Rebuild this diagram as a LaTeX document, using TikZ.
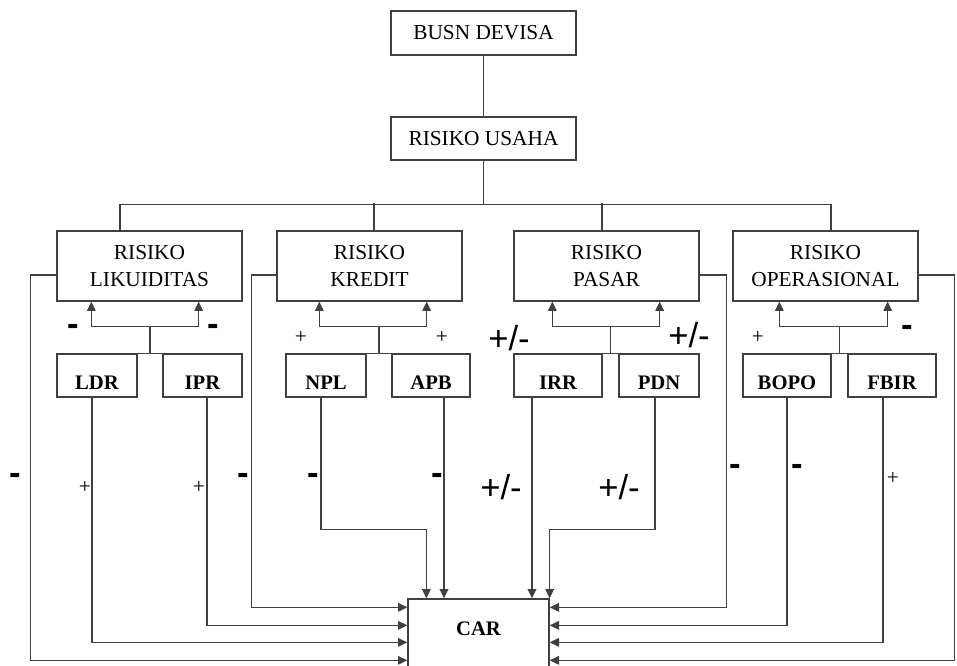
\documentclass[tikz,border=0pt]{standalone}
\usepackage{fontspec}
\setmainfont{Liberation Serif}
\newfontfamily\signfont{Liberation Sans}
\usepackage{tikz}
\usetikzlibrary{arrows.meta, positioning, calc}
\definecolor{lineA}{HTML}{404040}
\tikzset{
  risk/.style={
    draw=lineA, line width=1pt, align=center, inner sep=0pt,
    minimum width=138.75pt, minimum height=#1,
    font=\fontsize{16}{20}\selectfont
  },
  risk/.default=52.5pt,
  ratio/.style={
    draw=lineA, line width=1pt, inner sep=0pt,
    minimum width=#1, minimum height=32.25pt,
    text height=21.75pt, text depth=0pt,
    font=\fontsize{15.5}{18}\selectfont\bfseries
  },
  target/.style={
    draw=lineA, line width=1pt, inner sep=0pt,
    minimum width=105.75pt, minimum height=60pt,
    text height=9.75pt, text depth=15.75pt,
    font=\fontsize{15.5}{18}\selectfont\bfseries
  },
  link/.style={draw=lineA, line width=1pt},
  arrow/.style={link, -{Triangle[length=7pt, width=6.5pt]}},
  twoway/.style={link, {Triangle[length=7pt, width=6.5pt]}-{Triangle[length=7pt, width=6.5pt]}},
  minus/.style={inner sep=0pt, font=\signfont\bfseries\fontsize{26}{26}\selectfont},
  pm/.style={inner sep=0pt, font=\signfont\fontsize{26}{26}\selectfont},
  plus/.style={inner sep=0pt, font=\fontsize{16}{16}\selectfont}
}

\begin{document}
\begin{tikzpicture}[x=0.75pt, y=-0.75pt]
  \useasboundingbox (0,0) rectangle (957,666);
  \node[risk=33pt] (busn) at (483.5,33) {BUSN DEVISA};
  \node[risk=32.25pt] (usaha) at (483.5,138.5) {RISIKO USAHA};
  \node[risk] (lik) at (149.5,266) {RISIKO\\LIKUIDITAS};
  \node[risk] (kre) at (369.5,266) {RISIKO\\KREDIT};
  \node[risk] (pas) at (606.5,266) {RISIKO\\PASAR};
  \node[risk] (ope) at (825.5,266) {RISIKO\\OPERASIONAL};
  \node[ratio=60pt] (ldr) at (97,375.5) {LDR};
  \node[ratio=59.25pt] (ipr) at (202.5,375.5) {IPR};
  \node[ratio=60pt] (npl) at (326,375.5) {NPL};
  \node[ratio=58.5pt] (apb) at (431,375.5) {APB};
  \node[ratio=66pt] (irr) at (558,375.5) {IRR};
  \node[ratio=60pt] (pdn) at (659,375.5) {PDN};
  \node[ratio=66pt] (bopo) at (787,375.5) {BOPO};
  \node[ratio=66pt] (fbir) at (892,375.5) {FBIR};
  \node[target] (car) at (478.5,639) {CAR};

  \draw[link] (busn) -- (usaha);
  \draw[link] (usaha.south) -- ++(0,44) coordinate (bus);
  \draw[link] ($(lik.north)+(-29.5,0)$) |- (bus) -| ($(ope.north)+(5.5,0)$);
  \draw[link] ($(kre.north)+(4.5,0)$) -- ++(0,-27);
  \draw[link] ($(pas.north)+(-4.5,0)$) -- ++(0,-27);

  \draw[link] (ldr.north east) -- (ipr.north west);
  \draw[link] ($(ldr.north east)!0.5!(ipr.north west)$) -- ++(0,-27) coordinate (jlik);
  \draw[twoway] ($(lik.south west)+(35,0)$) |- (jlik) -| ($(lik.south east)+(-44,0)$);
  \draw[link] (npl.north east) -- (apb.north west);
  \draw[link] ($(npl.north east)!0.5!(apb.north west)$) -- ++(0,-27) coordinate (jkre);
  \draw[twoway] ($(kre.south west)+(43,0)$) |- (jkre) -| ($(kre.south east)+(-36,0)$);
  \draw[link] (irr.north east) -- (pdn.north west);
  \draw[link] ($(irr.north east)!0.5!(pdn.north west)$) -- ++(0,-27) coordinate (jpas);
  \draw[twoway] ($(pas.south west)+(39,0)$) |- (jpas) -| ($(pas.south east)+(-40,0)$);
  \draw[link] (bopo.north east) -- (fbir.north west);
  \draw[link] ($(bopo.north east)!0.5!(fbir.north west)$) -- ++(0,-27) coordinate (jope);
  \draw[twoway] ($(ope.south west)+(47,0)$) |- (jope) -| ($(ope.south east)+(-31,0)$);

  \draw[arrow] ($(kre.west)+(0,9)$) -- ++(-25,0) |- ($(car.north west)+(0,9)$);
  \draw[arrow] ($(ipr.south)+(4.5,0)$) |- ($(car.north west)+(0,27)$);
  \draw[arrow] ($(ldr.south)+(-5,0)$) |- ($(car.north west)+(0,44)$);
  \draw[arrow] ($(lik.west)+(0,9)$) -- ++(-26,0) |- ($(car.north west)+(0,62)$);
  \draw[arrow] ($(npl.south)+(-5,0)$) -- ++(0,132) -| ($(car.north west)+(19,0)$);
  \draw[arrow] ($(apb.south)+(13,0)$) coordinate (apbout) -- (apbout |- car.north);
  \draw[arrow] ($(irr.south)+(-26,0)$) coordinate (irrout) -- (irrout |- car.north);
  \draw[arrow] ($(pdn.south)+(-4,0)$) -- ++(0,132) -| (car.north east);
  \draw[arrow] ($(pas.east)+(0,9)$) -- ++(27,0) |- ($(car.north east)+(0,9)$);
  \draw[arrow] (bopo.south) |- ($(car.north east)+(0,27)$);
  \draw[arrow] ($(fbir.south)+(-9,0)$) |- ($(car.north east)+(0,44)$);
  \draw[arrow] ($(ope.east)+(0,9)$) -- ++(36,0) |- ($(car.north east)+(0,62)$);

  \node[minus] (s1) at (73,330) {-};
  \node[minus] (s2) at (213,330) {-};
  \node[plus] (s3) at (301,337) {+};
  \node[plus] (s4) at (442,337) {+};
  \node[pm] (s5) at (509,338) {+/-};
  \node[pm] (s6) at (689,335) {+/-};
  \node[plus] (s7) at (758,337) {+};
  \node[minus] (s8) at (907,331) {-};
  \node[minus] (s9) at (15,479) {-};
  \node[plus] (s10) at (85,487) {+};
  \node[plus] (s11) at (199,487) {+};
  \node[minus] (s12) at (243,479) {-};
  \node[minus] (s13) at (313,479) {-};
  \node[minus] (s14) at (437,479) {-};
  \node[pm] (s15) at (501,487) {+/-};
  \node[pm] (s16) at (619,487) {+/-};
  \node[minus] (s17) at (735,470) {-};
  \node[minus] (s18) at (797,470) {-};
  \node[plus] (s19) at (893,478) {+};
\end{tikzpicture}
\end{document}
